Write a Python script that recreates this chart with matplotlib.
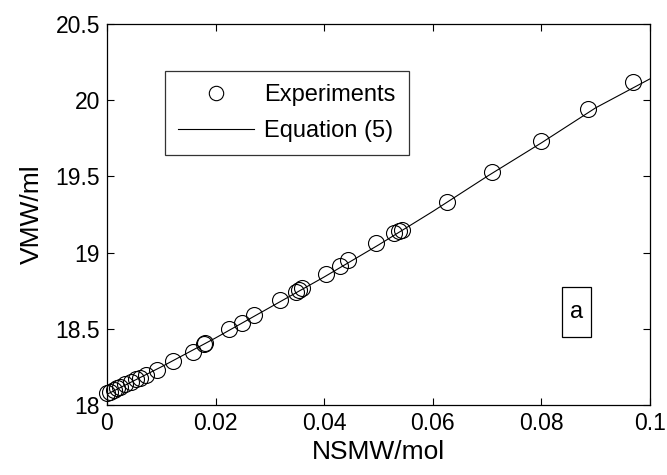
import numpy as np
import matplotlib
matplotlib.use("Agg")
import matplotlib.pyplot as plt
from matplotlib.patches import Rectangle

plt.rcParams["font.family"] = ["Liberation Sans", "DejaVu Sans"]

# ── Data ──────────────────────────────────────────────────────────────────────
exp_x = [0.0000, 0.0006, 0.0012, 0.0018, 0.0024, 0.0033, 0.0044, 0.0053,
         0.0061, 0.0072, 0.0092, 0.0122, 0.0158, 0.0179, 0.0181, 0.0225,
         0.0248, 0.0270, 0.0319, 0.0349, 0.0354, 0.0359, 0.0403, 0.0430,
         0.0443, 0.0495, 0.0529, 0.0537, 0.0544, 0.0627, 0.0709, 0.0799,
         0.0885, 0.0969]
exp_y = [18.077, 18.087, 18.098, 18.109, 18.120, 18.135, 18.153, 18.168,
         18.180, 18.200, 18.230, 18.289, 18.350, 18.400, 18.410, 18.500,
         18.540, 18.590, 18.690, 18.740, 18.755, 18.770, 18.860, 18.910,
         18.950, 19.060, 19.130, 19.140, 19.150, 19.335, 19.530, 19.730,
         19.940, 20.120]

eq_x = [0.00, 0.01, 0.02, 0.03, 0.04, 0.05, 0.06, 0.07, 0.08, 0.09, 0.10]
eq_y = [18.07, 18.25, 18.44, 18.64, 18.84, 19.05, 19.27, 19.50, 19.72, 19.95, 20.14]

x_ticks = [0, 0.02, 0.04, 0.06, 0.08, 0.1]
x_tick_labels = ["0", "0.02", "0.04", "0.06", "0.08", "0.1"]
y_ticks = [18, 18.5, 19, 19.5, 20, 20.5]
y_tick_labels = ["18", "18.5", "19", "19.5", "20", "20.5"]

# ── Figure ────────────────────────────────────────────────────────────────────
fig = plt.figure(figsize=(6.67, 4.75), dpi=100)
ax = fig.add_axes([0.1604, 0.1474, 0.8141, 0.8021])

ax.plot(exp_x, exp_y, "o", mfc="none", mec="black", ms=11.5, mew=0.8,
        label="Experiments", clip_on=False)
ax.plot(eq_x, eq_y, "-", color="black", lw=0.8, label="Equation (5)")

ax.set_xlim(0, 0.1)
ax.set_ylim(18, 20.5)
ax.set_xticks(x_ticks)
ax.set_xticklabels(x_tick_labels)
ax.set_yticks(y_ticks)
ax.set_yticklabels(y_tick_labels)
ax.tick_params(direction="in", length=5, width=0.8, labelsize=16.5,
               top=True, right=True, pad=5)
for s in ax.spines.values():
    s.set_linewidth(0.9)

ax.set_xlabel("NSMW/mol", fontsize=19, labelpad=4)
ax.set_ylabel("VMW/ml", fontsize=19, labelpad=8)

leg = ax.legend(loc="upper left", bbox_to_anchor=(165 / 667, 1 - 71 / 475),
                bbox_transform=fig.transFigure, fontsize=17, frameon=True,
                fancybox=False, edgecolor="black", handlelength=3.2,
                borderpad=0.55, labelspacing=0.6, handletextpad=0.45,
                borderaxespad=0, markerscale=0.9)
leg.get_frame().set_linewidth(0.9)

# panel label box "a"
ax.add_patch(Rectangle((0.0838, 18.446), 0.0053, 0.328, fill=False,
                       ec="black", lw=0.9))
ax.text(0.08645, 18.61, "a", fontsize=17, ha="center", va="center")

fig.savefig("out.png", dpi=100)
